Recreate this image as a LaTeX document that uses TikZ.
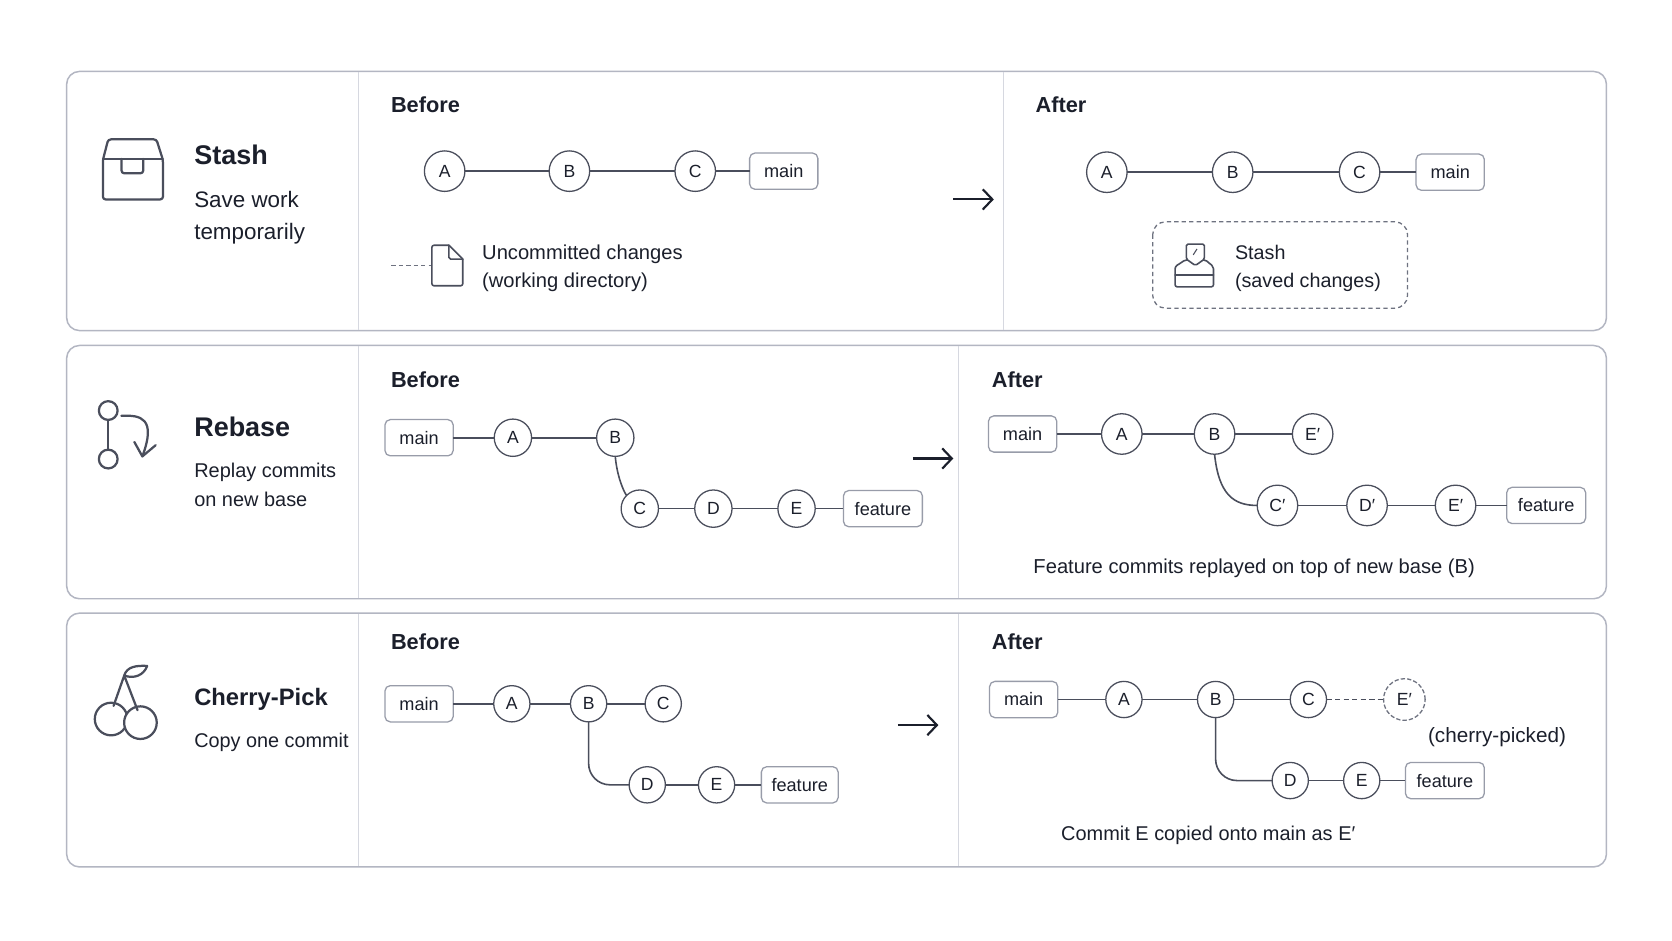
\documentclass[tikz,border=0pt]{standalone}
\usepackage{fontspec}
\setmainfont{Liberation Sans}
\usepackage{xcolor}
\usetikzlibrary{positioning,arrows.meta}
\definecolor{inkcol}{HTML}{1B1F2B}
\definecolor{linecol}{HTML}{4A4E5C}
\definecolor{framecol}{HTML}{B3B6C2}
\definecolor{splitcol}{HTML}{D6D8E0}
\definecolor{tagcol}{HTML}{989CA9}
\definecolor{dashcol}{HTML}{6E7280}

\begin{document}
\begin{tikzpicture}[x=1pt,y=-1pt,
    roundnode/.style={circle, draw=linecol, fill=white, line width=1.2pt, text=inkcol, minimum size=38pt, inner sep=0pt, outer sep=0pt, font=\fontsize{16.5}{19}\selectfont},
    tagnode/.style={rectangle, rounded corners=5pt, draw=tagcol, fill=white, line width=1.2pt, text=inkcol, minimum width=64pt, minimum height=34pt, inner sep=0pt, outer sep=0pt, font=\fontsize{17}{20}\selectfont},
    headnode/.style={anchor=west, inner sep=0pt, text=inkcol, font=\fontsize{20.4}{24}\selectfont\bfseries},
    titlenode/.style={anchor=west, inner sep=0pt, text=inkcol, font=\fontsize{25.3}{30}\selectfont\bfseries},
    textnode/.style={anchor=west, align=left, inner sep=0pt, text=inkcol, font=\fontsize{18.9}{26}\selectfont},
    cardline/.style={draw=framecol, fill=white, line width=1.4pt, rounded corners=12pt},
    splitline/.style={draw=splitcol, line width=1.2pt},
    commitline/.style={draw=linecol, line width=1.5pt},
    softline/.style={draw=dashcol, line width=1.2pt, dash pattern=on 4pt off 3pt},
    stepline/.style={draw=inkcol, line width=2pt, -{Straight Barb[length=9pt,width=19pt,line width=2pt]}},
    iconline/.style={draw=linecol, line width=2.1pt, line join=round, line cap=round},
    thinicon/.style={draw=linecol, line width=1.5pt, line join=round, line cap=round},
]
            \useasboundingbox[fill=white] (0,0) rectangle (1568,882.4);

            %Cards
            \draw[cardline] (62.5,67) rectangle (1506.5,310);
            \draw[cardline] (62.5,324) rectangle (1506.5,561.5);
            \draw[cardline] (62.5,575) rectangle (1506.5,813);
            \draw[splitline] (336,67.7) -- (336,309.3);
            \draw[splitline] (940.8,67.7) -- (940.8,309.3);
            \draw[splitline] (336,324.7) -- (336,560.8);
            \draw[splitline] (899,324.7) -- (899,560.8);
            \draw[splitline] (336,575.7) -- (336,812.3);
            \draw[splitline] (899,575.7) -- (899,812.3);

            %Stash
            \draw[iconline, rounded corners=2.5pt] (96.5,150) -- (101.5,130.7) -- (146.7,130.7) -- (152.8,150) -- (152.8,187) -- (96.5,187) -- cycle;
            \draw[iconline] (96.5,149) -- (152.8,149);
            \draw[iconline, rounded corners=2.5pt] (114,149) -- (114,162.5) -- (134.3,162.5) -- (134.3,149);
            \node[titlenode](stash_title) at (182,145){Stash};
            \node[textnode, font=\fontsize{21}{30}\selectfont](stash_text) at (182,204.5){Save work\\temporarily};
            \node[headnode](stash_before) at (366.5,98){Before};
            \node[headnode](stash_after) at (971,98){After};

            \node[roundnode](before_a) at (417,160.5){A};
            \node[roundnode](before_b)[right=79pt of before_a]{B};
            \node[roundnode](before_c)[right=80pt of before_b]{C};
            \node[tagnode](before_main)[right=32pt of before_c]{main};
            \coordinate (loose_start) at (367,249);
            \coordinate (loose_end) at (405,249);
            \draw[commitline] (before_a) -- (before_b);
            \draw[commitline] (before_b) -- (before_c);
            \draw[commitline] (before_c) -- (before_main);
            \draw[softline] (loose_start) -- (loose_end);
            \draw[thinicon, rounded corners=2pt] (421,230) -- (405,230) -- (405,268) -- (434,268) -- (434,243);
            \draw[thinicon] (421,230) -- (434,243);
            \draw[thinicon, rounded corners=1.5pt] (421,230) -- (421,243) -- (434,243);
            \node[textnode](loose_text) at (452,251.5){Uncommitted changes\\(working directory)};

            \coordinate (stash_from) at (894,187);
            \coordinate (stash_to) at (932,187);
            \draw[stepline] (stash_from) -- (stash_to);

            \node[roundnode](after_a) at (1038,161.5){A};
            \node[roundnode](after_b)[right=80pt of after_a]{B};
            \node[roundnode](after_c)[right=81pt of after_b]{C};
            \node[tagnode](after_main)[right=34pt of after_c]{main};
            \draw[commitline] (after_a) -- (after_b);
            \draw[commitline] (after_b) -- (after_c);
            \draw[commitline] (after_c) -- (after_main);
            \draw[softline, rounded corners=12pt] (1081,208) rectangle (1320,289);
            \draw[thinicon, rounded corners=2pt] (1102,262) -- (1102,269) -- (1138,269) -- (1138,250) -- (1130,243.5) -- (1112,243.5) -- (1102,250) -- cycle;
            \draw[thinicon] (1102,258) -- (1138,258);
            \draw[thinicon, fill=white, rounded corners=1.5pt] (1112.5,229) -- (1129.5,229) -- (1129.5,243) -- (1121,249) -- (1112.5,243) -- cycle;
            \draw[draw=linecol, line width=1pt] (1119,239) -- (1122.5,233.5);
            \node[textnode, font=\fontsize{18.5}{26}\selectfont](saved_text) at (1158,251.5){Stash\\(saved changes)};

            %Rebase
            \draw[iconline] (101.5,394) -- (101.5,422);
            \draw[iconline] (101.5,385) circle (8.8);
            \draw[iconline] (101.5,430.5) circle (8.8);
            \draw[iconline] (113.8,390) .. controls (132,389) and (147,392) .. (133.5,428);
            \draw[iconline] (126,414.5) -- (133.5,428) -- (146,417.5);
            \node[titlenode](rebase_title) at (182,400){Rebase};
            \node[textnode, font=\fontsize{18.7}{27}\selectfont](rebase_text) at (182,454.5){Replay commits\\on new base};
            \node[headnode](rebase_before) at (366.5,356){Before};
            \node[headnode](rebase_after) at (930,356){After};

            \node[tagnode](old_main) at (393,410.5){main};
            \node[roundnode, minimum size=35pt](old_a)[right=38.5pt of old_main]{A};
            \node[roundnode, minimum size=35pt](old_b)[right=61pt of old_a]{B};
            \node[roundnode, minimum size=35pt](old_c) at (600,477){C};
            \node[roundnode, minimum size=35pt](old_d)[right=34pt of old_c]{D};
            \node[roundnode, minimum size=35pt](old_e)[right=43pt of old_d]{E};
            \node[tagnode, minimum width=74pt](old_feature)[right=26.5pt of old_e]{feature};
            \draw[commitline] (old_main) -- (old_a);
            \draw[commitline] (old_a) -- (old_b);
            \draw[commitline] (old_b.south) .. controls +(1.5,18) and +(-3,-4) .. (old_c.north west);
            \draw[commitline] (old_c) -- (old_d);
            \draw[commitline] (old_d) -- (old_e);
            \draw[commitline] (old_e) -- (old_feature);

            \coordinate (rebase_from) at (856,430);
            \coordinate (rebase_to) at (894,430);
            \draw[stepline] (rebase_from) -- (rebase_to);

            \node[tagnode](new_main) at (959,407){main};
            \node[roundnode](new_a)[right=42pt of new_main]{A};
            \node[roundnode](new_b)[right=49pt of new_a]{B};
            \node[roundnode](new_top)[right=54pt of new_b]{E′};
            \node[roundnode](new_c) at (1198,474){C′};
            \node[roundnode](new_d)[right=46pt of new_c]{D′};
            \node[roundnode](new_e)[right=45pt of new_d]{E′};
            \node[tagnode, minimum width=74pt](new_feature)[right=29pt of new_e]{feature};
            \draw[commitline] (new_main) -- (new_a);
            \draw[commitline] (new_a) -- (new_b);
            \draw[commitline] (new_b) -- (new_top);
            \draw[commitline] (new_b.south) .. controls +(4,38) and +(-22,0) .. (new_c.west);
            \draw[commitline] (new_c) -- (new_d);
            \draw[commitline] (new_d) -- (new_e);
            \draw[commitline] (new_e) -- (new_feature);
            \node[textnode](rebase_note) at (969,532.5){Feature commits replayed on top of new base (B)};

            %Cherry-Pick
            \draw[iconline] (104.2,674.3) circle (15.3);
            \draw[iconline, fill=white] (131.7,677.7) circle (15.3);
            \draw[iconline] (106.5,662) -- (116.5,633.5) -- (129,666);
            \draw[iconline] (116.5,633.5) .. controls (119,625) and (128,624) .. (138,624.5) .. controls (135,633) and (126,637) .. (116.5,633.5);
            \node[titlenode, font=\fontsize{22.3}{27}\selectfont\bfseries](cherry_title) at (182,656){Cherry-Pick};
            \node[textnode, font=\fontsize{18.6}{26}\selectfont](cherry_text) at (182,696){Copy one commit};
            \node[headnode](cherry_before) at (366.5,602){Before};
            \node[headnode](cherry_after) at (930,602){After};

            \node[tagnode](pick_main) at (393,660){main};
            \node[roundnode, minimum size=34pt](pick_a)[right=38pt of pick_main]{A};
            \node[roundnode, minimum size=34pt](pick_b)[right=38pt of pick_a]{B};
            \node[roundnode, minimum size=34pt](pick_c)[right=36pt of pick_b]{C};
            \node[roundnode, minimum size=34pt](pick_d) at (607,736){D};
            \node[roundnode, minimum size=34pt](pick_e)[right=31pt of pick_d]{E};
            \node[tagnode, minimum width=72pt](pick_feature)[right=25pt of pick_e]{feature};
            \draw[commitline] (pick_main) -- (pick_a);
            \draw[commitline] (pick_a) -- (pick_b);
            \draw[commitline] (pick_b) -- (pick_c);
            \draw[commitline, rounded corners=20pt] (pick_b.south) |- (pick_d.west);
            \draw[commitline] (pick_d) -- (pick_e);
            \draw[commitline] (pick_e) -- (pick_feature);

            \coordinate (cherry_from) at (842,680);
            \coordinate (cherry_to) at (880,680);
            \draw[stepline] (cherry_from) -- (cherry_to);

            \node[tagnode](done_main) at (960,656){main};
            \node[roundnode, minimum size=34pt](done_a)[right=45pt of done_main]{A};
            \node[roundnode, minimum size=34pt](done_b)[right=52pt of done_a]{B};
            \node[roundnode, minimum size=34pt](done_c)[right=53pt of done_b]{C};
            \node[roundnode, minimum size=39pt, draw=dashcol, dash pattern=on 4pt off 2pt](done_copy)[right=53.5pt of done_c]{E′};
            \node[roundnode, minimum size=34pt](done_d) at (1210,732){D};
            \node[roundnode, minimum size=34pt](done_e)[right=33pt of done_d]{E};
            \node[tagnode, minimum width=74pt](done_feature)[right=24pt of done_e]{feature};
            \draw[commitline] (done_main) -- (done_a);
            \draw[commitline] (done_a) -- (done_b);
            \draw[commitline] (done_b) -- (done_c);
            \draw[commitline, dash pattern=on 5pt off 3pt] (done_c) -- (done_copy);
            \draw[commitline, rounded corners=20pt] (done_b.south) |- (done_d.west);
            \draw[commitline] (done_d) -- (done_e);
            \draw[commitline] (done_e) -- (done_feature);
            \node[textnode, font=\fontsize{19.4}{26}\selectfont](copy_text) at (1339,691.5){(cherry-picked)};
            \node[textnode, font=\fontsize{18.7}{26}\selectfont](cherry_note) at (995,783.5){Commit E copied onto main as E′};
\end{tikzpicture}
\end{document}
